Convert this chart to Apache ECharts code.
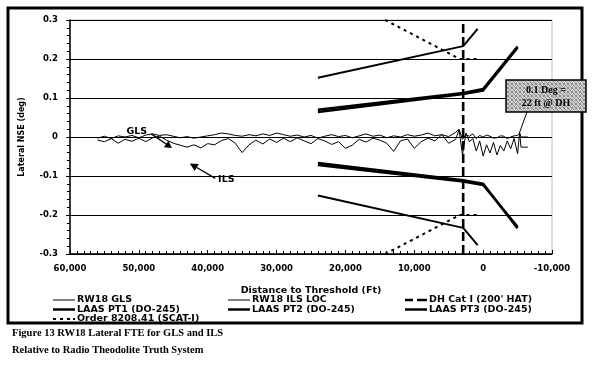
<!DOCTYPE html>
<html>
<head>
<meta charset="utf-8">
<script src="https://cdn.jsdelivr.net/npm/echarts@6/dist/echarts.min.js"></script>
<style>
html,body{margin:0;padding:0;background:#fff;}
#chart{width:600px;height:366px;}
</style>
</head>
<body>
<div id="chart"></div>
<script>
// ---------- data ----------
const xTicks = [-10000, 60000, 10000];          // min, max, interval (ft)
const yTicks = [-0.3, 0.3, 0.1];                // min, max, interval (deg)

const traceDist = [56000,55000,54000,53000,52000,51000,50000,49000,48000,47000,46000,45000,44000,43000,42000,41000,40000,39000,38000,37000,36000,35000,34000,33000,32000,31000,30000,29000,28000,27000,26000,25000,24000,23000,22000,21000,20000,19000,18000,17000,16000,15000,14000,13000,12000,11000,10000,9000,8000,7000,6000,5000,4000,3500,3000,2500,2000,1500,1000,500,0,-500,-1000,-1500,-2000,-2500,-3000,-3500,-4000,-4500,-5000,-5300,-5500,-6500];

const glsVals = [-0.003,0.002,-0.004,0.003,0.000,0.004,-0.002,0.005,0.008,0.004,0.006,0.002,-0.002,0.001,-0.003,0.000,0.003,0.006,0.010,0.008,0.004,0.002,0.006,0.003,0.008,0.004,0.010,0.006,0.002,0.005,0.000,0.004,-0.003,0.002,0.006,0.001,0.004,-0.002,0.003,0.008,0.002,0.005,-0.002,0.003,0.000,0.006,0.002,0.005,0.010,0.003,0.006,0.001,0.012,0.020,-0.006,0.006,0.002,0.008,-0.004,0.004,0.000,0.005,0.002,-0.003,-0.002,0.003,0.002,-0.004,0.000,0.003,0.004,0.010,0.000,0.000];

const ilsVals = [-0.008,-0.012,-0.004,-0.016,-0.006,-0.011,-0.003,-0.012,-0.002,0.002,-0.008,-0.016,-0.021,-0.026,-0.020,-0.028,-0.017,-0.020,-0.009,-0.004,-0.016,-0.040,-0.020,-0.008,-0.018,-0.005,-0.014,-0.003,-0.012,-0.002,-0.010,-0.017,-0.004,-0.010,-0.019,-0.012,-0.029,-0.021,-0.006,-0.013,-0.003,-0.008,-0.016,-0.037,-0.010,-0.005,-0.029,-0.012,-0.003,-0.010,0.006,-0.016,-0.006,0.018,-0.046,0.010,-0.012,-0.004,-0.036,-0.010,-0.049,-0.020,-0.041,-0.014,-0.046,-0.022,-0.036,-0.010,-0.030,-0.004,-0.043,0.012,-0.026,-0.026];

// LAAS tunnel limits (upper branch / lower branch)
const pt1Dist  = [24000, 2900, 0, -5000];
const pt1Upper = [0.070, 0.113, 0.123, 0.232];
const pt1Lower = [-0.067, -0.111, -0.120, -0.234];
const pt2Dist  = [24000, 2900, 0, -5000];
const pt2Upper = [0.064, 0.110, 0.119, 0.229];
const pt2Lower = [-0.072, -0.114, -0.123, -0.230];
const pt3Dist  = [24000, 2900, 800];
const pt3Upper = [0.152, 0.233, 0.277];
const pt3Lower = [-0.150, -0.233, -0.277];

// Order 8208.41 (SCAT-I)
const scatDist  = [14230, 3400, 900];
const scatUpper = [0.300, 0.200, 0.200];
const scatLower = [-0.300, -0.200, -0.200];

// DH Cat I (200' HAT)
const dhDist = 2900;

const seriesNames = ['RW18 GLS','RW18 ILS LOC',"DH Cat I (200' HAT)",'LAAS PT1 (DO-245)','LAAS PT2 (DO-245)','LAAS PT3 (DO-245)','Order 8208.41 (SCAT-I)'];

// ---------- build ----------
function pairs(xs, ys){ return xs.map((x,i)=>[x, ys[i]]); }
function twoBranch(xs, up, lo){ return pairs(xs, up).concat([[null,null]], pairs(xs, lo)); }

const FONT = 'DejaVu Sans';
const chart = echarts.init(document.getElementById('chart'), null, {renderer:'canvas'});

const lineBase = {type:'line', symbol:'none', showSymbol:false, animation:false, connectNulls:false, color:'#000'};

// legend icons: 22x8 box, the slivers at top/bottom fix the bounding box
const BOX = 'M0,0h22v0.01h-22z M0,7.99h22v0.01h-22z ';
const ICON_THIN  = 'path://' + BOX + 'M0,3.5h22v1h-22z';
const ICON_THICK = 'path://' + BOX + 'M0,2.8h22v2.4h-22z';
const ICON_DASH  = 'path://' + BOX + 'M0,2.8h8v2.4h-8z M12,2.8h10v2.4h-10z';
const ICON_DOT   = 'path://' + BOX + 'M0,3h3v2h-3z M7,3h3v2h-3z M14,3h3v2h-3z M20,3h2v2h-2z';

const legendCommon = {
  orient:'vertical', top:295, padding:0, itemGap:-0.5, itemWidth:22, itemHeight:8,
  symbolKeepAspect:false,
  textStyle:{fontFamily:FONT, fontWeight:'bold', fontSize:9.5, color:'#000', lineHeight:8, padding:[0,0,0,-3]}
};

const option = {
  backgroundColor:'#fff',
  animation:false,
  grid:{left:70, right:48, top:20, bottom:112, show:true, borderColor:'#bdbdbd', borderWidth:1},
  legend:[
    Object.assign({}, legendCommon, {left:53, data:[
      {name:seriesNames[0], icon:ICON_THIN}, {name:seriesNames[3], icon:ICON_THICK}, {name:seriesNames[6], icon:ICON_DOT}]}),
    Object.assign({}, legendCommon, {left:228, data:[
      {name:seriesNames[1], icon:ICON_THIN}, {name:seriesNames[4], icon:ICON_THICK}]}),
    Object.assign({}, legendCommon, {left:405, data:[
      {name:seriesNames[2], icon:ICON_DASH}, {name:seriesNames[5], icon:ICON_THICK}]})
  ],
  xAxis:{
    type:'value', inverse:true, min:xTicks[0], max:xTicks[1], interval:xTicks[2],
    name:'Distance to Threshold (Ft)', nameLocation:'middle', nameGap:32,
    nameTextStyle:{fontFamily:FONT, fontWeight:'bold', fontSize:9.5, color:'#000'},
    axisLine:{show:true, onZero:false, lineStyle:{color:'#000', width:1.5}},
    axisTick:{show:true, inside:true, length:4, lineStyle:{color:'#000', width:1}},
    minorTick:{show:true, splitNumber:10, length:3, lineStyle:{color:'#000', width:1}},
    axisLabel:{fontFamily:FONT, fontWeight:'bold', fontSize:8.5, color:'#000', margin:10,
      formatter:v=>Math.round(v).toLocaleString('en-US')},
    splitLine:{show:false}
  },
  yAxis:{
    type:'value', min:yTicks[0], max:yTicks[1], interval:yTicks[2],
    name:'Lateral NSE (deg)', nameLocation:'middle', nameRotate:90, nameGap:44,
    nameTextStyle:{fontFamily:FONT, fontWeight:'bold', fontSize:8, color:'#000'},
    axisLine:{show:true, onZero:false, lineStyle:{color:'#000', width:1.5}},
    axisTick:{show:true, inside:false, length:4, lineStyle:{color:'#000', width:1}},
    minorTick:{show:true, splitNumber:5, length:3, lineStyle:{color:'#000', width:1}},
    axisLabel:{fontFamily:FONT, fontWeight:'bold', fontSize:8.5, color:'#000', margin:12,
      formatter:v=>Math.abs(v)<1e-9 ? '0' : v.toFixed(1)},
    splitLine:{show:true, lineStyle:{color:'#000', width:1}}
  },
  series:[
    Object.assign({}, lineBase, {name:seriesNames[0], z:4, data:pairs(traceDist, glsVals), lineStyle:{color:'#000', width:1}}),
    Object.assign({}, lineBase, {name:seriesNames[1], z:4, data:pairs(traceDist, ilsVals), lineStyle:{color:'#000', width:1}}),
    Object.assign({}, lineBase, {name:seriesNames[2], z:5, data:[[dhDist, yTicks[0]],[dhDist, yTicks[1]]], lineStyle:{color:'#000', width:2.6, type:[9,4]}}),
    Object.assign({}, lineBase, {name:seriesNames[3], z:6, data:twoBranch(pt1Dist, pt1Upper, pt1Lower), lineStyle:{color:'#000', width:2.6}}),
    Object.assign({}, lineBase, {name:seriesNames[4], z:6, data:twoBranch(pt2Dist, pt2Upper, pt2Lower), lineStyle:{color:'#000', width:2.4}}),
    Object.assign({}, lineBase, {name:seriesNames[5], z:6, data:twoBranch(pt3Dist, pt3Upper, pt3Lower), lineStyle:{color:'#000', width:2}}),
    Object.assign({}, lineBase, {name:seriesNames[6], z:5, data:twoBranch(scatDist, scatUpper, scatLower), lineStyle:{color:'#000', width:2, type:[3,4]}})
  ]
};
chart.setOption(option);

// ---------- annotations ----------
function px(p){ return chart.convertToPixel({gridIndex:0}, p); }
function arrow(fromD, toD, len, hw){
  const a = px(fromD), b = px(toD);
  const dx=b[0]-a[0], dy=b[1]-a[1], L=Math.hypot(dx,dy), ux=dx/L, uy=dy/L;
  const bx=b[0]-ux*len, by=b[1]-uy*len;
  return [
    {type:'line', z:20, shape:{x1:a[0], y1:a[1], x2:bx, y2:by}, style:{stroke:'#000', lineWidth:1.3}},
    {type:'polygon', z:20, shape:{points:[[b[0],b[1]],[bx-uy*hw, by+ux*hw],[bx+uy*hw, by-ux*hw]]}, style:{fill:'#000'}}
  ];
}
// hatch pattern for the note box
const pc = document.createElement('canvas'); pc.width=4; pc.height=4;
const g = pc.getContext('2d');
g.fillStyle='#cfcfcf'; g.fillRect(0,0,4,4);
g.fillStyle='#8a8a8a'; g.fillRect(0,0,1,1); g.fillRect(1,1,1,1); g.fillRect(2,2,1,1); g.fillRect(3,3,1,1);
g.fillRect(3,0,1,1); g.fillRect(0,3,1,1);

const glsLbl = px([50300, 0.013]);
const ilsLbl = px([37300, -0.110]);
const leadEnd = px([-5300, 0.012]);

const graphics = [
  {type:'rect', z:30, shape:{x:8, y:8, width:574, height:315}, style:{fill:null, stroke:'#000', lineWidth:3}},
  {type:'text', z:20, x:glsLbl[0], y:glsLbl[1], style:{text:'GLS', font:'bold 9.5px "DejaVu Sans"', fill:'#000', textAlign:'center', textVerticalAlign:'middle'}},
  {type:'text', z:20, x:ilsLbl[0], y:ilsLbl[1], style:{text:'ILS', font:'bold 9.5px "DejaVu Sans"', fill:'#000', textAlign:'center', textVerticalAlign:'middle'}},
  ...arrow([48200, 0.008], [45200, -0.028], 7, 4),
  ...arrow([38900, -0.106], [42600, -0.068], 8, 4),
  {type:'line', z:20, shape:{x1:527, y1:112, x2:leadEnd[0], y2:leadEnd[1]}, style:{stroke:'#000', lineWidth:1}},
  {type:'rect', z:40, shape:{x:506, y:80, width:80, height:32}, style:{fill:{image:pc, repeat:'repeat'}, stroke:'#000', lineWidth:1.5}},
  {type:'text', z:41, x:546, y:90, style:{text:'0.1 Deg =', font:'bold 10px "Liberation Serif"', fill:'#000', textAlign:'center', textVerticalAlign:'middle'}},
  {type:'text', z:41, x:546, y:103, style:{text:'22 ft @ DH', font:'bold 10px "Liberation Serif"', fill:'#000', textAlign:'center', textVerticalAlign:'middle'}},
  {type:'text', z:20, x:12, y:333, style:{text:'Figure 13 RW18 Lateral FTE for GLS and ILS', font:'bold 10.5px "Liberation Serif"', fill:'#000', textAlign:'left', textVerticalAlign:'middle'}},
  {type:'text', z:20, x:12, y:350, style:{text:'Relative to Radio Theodolite Truth System', font:'bold 10.5px "Liberation Serif"', fill:'#000', textAlign:'left', textVerticalAlign:'middle'}}
];
chart.setOption({graphic:graphics});
</script>
</body>
</html>
